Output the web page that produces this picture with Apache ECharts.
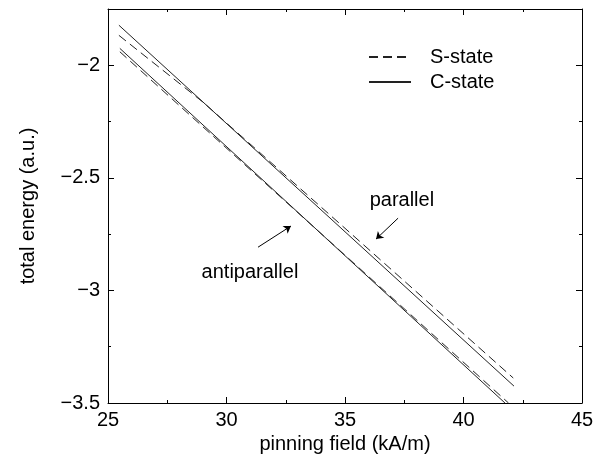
<!DOCTYPE html>
<html>
<head>
<meta charset="utf-8">
<script src="https://cdn.jsdelivr.net/npm/echarts@6/dist/echarts.min.js"></script>
<style>
  html, body { margin: 0; padding: 0; background: #fff; }
  #chart { width: 600px; height: 462px; }
</style>
</head>
<body>
<div id="chart"></div>
<script>
// values
var xParS = [25.46, 29.0, 35.0, 42.1];
var yParS = [-1.867, -2.163, -2.724, -3.389];
var xParC = [25.46, 42.13];
var yParC = [-1.822, -3.425];
var xAntiS = [25.5, 41.9];
var yAntiS = [-1.94, -3.5];
var xAntiC = [25.5, 41.75];
var yAntiC = [-1.925, -3.5];

var xTicks = [25, 30, 35, 40, 45];
var yTicks = [-3.5, -3, -2.5, -2];

var font = 'Liberation Sans, Arial, Helvetica, sans-serif';

function pairs(xs, ys) {
    return xs.map(function (x, i) { return [x, ys[i]]; });
}
function minus(v) {
    return String(v).replace('-', '\u2212');
}

var myChart = echarts.init(document.getElementById('chart'));

var axisCommon = {
    axisLine: { show: true, onZero: false, lineStyle: { color: '#000', width: 1 } },
    axisTick: { show: true, inside: true, length: 6, lineStyle: { color: '#000' } },
    minorTick: { show: true, splitNumber: 2, length: 3, lineStyle: { color: '#000' } },
    splitLine: { show: false }
};

var dashed = { color: '#222', width: 1, type: [9, 5] };
var solid = { color: '#222', width: 1, type: 'solid' };

var option = {
    animation: false,
    grid: { left: 108, right: 18, top: 9, bottom: 59 },
    legend: {
        orient: 'vertical',
        left: 363,
        top: 42,
        itemWidth: 42,
        itemHeight: 10,
        itemGap: 5,
        itemStyle: { opacity: 0 },
        textStyle: { fontFamily: font, fontSize: 20, color: '#000', padding: [0, 0, 0, 14] },
        data: ['S-state', 'C-state']
    },
    xAxis: [
        Object.assign({
            type: 'value', min: 25, max: 45, interval: 5, position: 'bottom',
            name: 'pinning field (kA/m)', nameLocation: 'middle', nameGap: 30,
            nameTextStyle: { fontFamily: font, fontSize: 20, color: '#000' },
            axisLabel: { fontFamily: font, fontSize: 20, color: '#000', margin: 7 }
        }, axisCommon),
        Object.assign({
            type: 'value', min: 25, max: 45, interval: 5, position: 'top',
            axisLabel: { show: false }
        }, axisCommon)
    ],
    yAxis: [
        Object.assign({
            type: 'value', min: -3.5, max: -1.75, interval: 0.5, position: 'left',
            name: 'total energy (a.u.)', nameLocation: 'middle', nameGap: 70,
            nameTextStyle: { fontFamily: font, fontSize: 20, color: '#000' },
            axisLabel: {
                fontFamily: font, fontSize: 20, color: '#000', margin: 8,
                showMaxLabel: false,
                formatter: function (v) { return yTicks.indexOf(v) >= 0 ? minus(v) : ''; }
            }
        }, axisCommon),
        Object.assign({
            type: 'value', min: -3.5, max: -1.75, interval: 0.5, position: 'right',
            axisLabel: { show: false }
        }, axisCommon)
    ],
    series: [
        {
            name: 'S-state', type: 'line', symbol: 'none', data: pairs(xParS, yParS),
            lineStyle: dashed, itemStyle: { color: '#222' }
        },
        {
            name: 'C-state', type: 'line', symbol: 'none', data: pairs(xParC, yParC),
            lineStyle: solid, itemStyle: { color: '#222' },
            markLine: {
                silent: true,
                symbol: ['none', 'arrow'],
                symbolSize: 7,
                label: { show: false },
                lineStyle: { color: '#000', width: 1, type: 'solid' },
                data: [
                    [{ coord: [31.33, -2.808] }, { coord: [32.72, -2.714] }],
                    [{ coord: [37.24, -2.679] }, { coord: [36.31, -2.772] }]
                ]
            },
            markPoint: {
                silent: true,
                symbol: 'circle',
                symbolSize: 0,
                label: {
                    show: true, position: 'inside', formatter: '{b}',
                    fontFamily: font, fontSize: 20, color: '#000'
                },
                data: [
                    { name: 'antiparallel', coord: [30.99, -2.919] },
                    { name: 'parallel', coord: [37.4, -2.599] }
                ]
            }
        },
        {
            name: 'S-state', type: 'line', symbol: 'none', data: pairs(xAntiS, yAntiS),
            lineStyle: dashed, itemStyle: { color: '#222' }
        },
        {
            name: 'C-state', type: 'line', symbol: 'none', data: pairs(xAntiC, yAntiC),
            lineStyle: solid, itemStyle: { color: '#222' }
        }
    ]
};

myChart.setOption(option);
</script>
</body>
</html>
